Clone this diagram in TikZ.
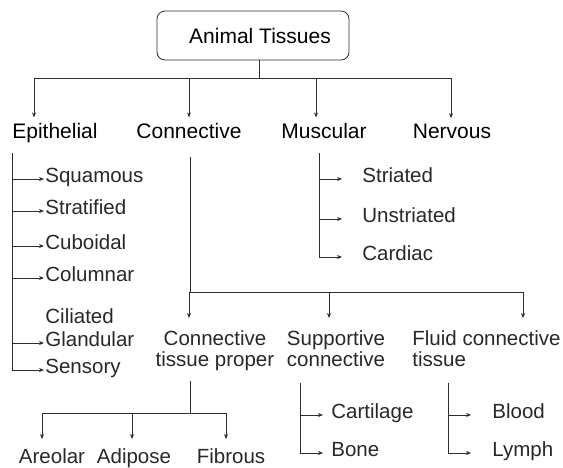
\documentclass[tikz,border=0pt]{standalone}
\usepackage{fontspec}
\setmainfont{Liberation Sans}
\usetikzlibrary{arrows.meta,calc}
\definecolor{tissueline}{RGB}{45,45,45}
\definecolor{tissuetext}{RGB}{40,40,40}

\begin{document}
\begin{tikzpicture}[x=1pt,y=-1pt,>={Stealth[length=5pt,width=4pt]},line width=0.8pt,tissueline,
    head/.style={font=\fontsize{21}{24}\selectfont,text=black,anchor=base,inner xsep=0pt,inner ysep=5pt},
    item/.style={font=\fontsize{20.5}{21}\selectfont,text=tissuetext,anchor=west,inner sep=1pt,text height=1.45ex,text depth=0.25ex},
    group/.style={font=\fontsize{20.5}{21}\selectfont,text=tissuetext,anchor=north,align=center,inner xsep=0pt,inner ysep=12pt},
    leaf/.style={font=\fontsize{20.5}{21}\selectfont,text=tissuetext,anchor=north,inner sep=0pt}]
    \useasboundingbox (0,0) rectangle (563,467);

    % Root
    \node[draw,rounded corners=8pt,minimum width=192pt,minimum height=49pt,head,anchor=center,inner sep=0pt] (root) at (253,35.5) {\hspace*{14pt}Animal Tissues};
    \coordinate (hub) at (259,78);
    \coordinate (bEpi) at (34,78);
    \coordinate (bCon) at (189,78);
    \coordinate (bMus) at (316,78);
    \coordinate (bNer) at (451,78);
    \draw ([xshift=6pt]root.south) -- (hub);
    \draw (bEpi) -- (bNer);

    % Main groups
    \node[head] (epi) at (55,138) {Epithelial};
    \node[head] (con) at (189,138) {Connective};
    \node[head] (mus) at (324,138) {Muscular};
    \node[head] (ner) at (452,138) {Nervous};
    \foreach \b/\n in {bEpi/epi,bCon/con,bMus/mus,bNer/ner}
        \draw[->] (\b) -- (\b |- \n.north);

    % Epithelial
    \coordinate (epiTop) at (12,153);
    \node[item] (squ) at (44,179) {Squamous};
    \node[item] (str) at (44,211) {Stratified};
    \node[item] (cub) at (44,246) {Cuboidal};
    \node[item] (col) at (44,278) {Columnar};
    \node[item] (cil) at (44,320) {Ciliated};
    \node[item] (gla) at (44,343) {Glandular};
    \node[item] (sen) at (44,370) {Sensory};
    \draw[->] (epiTop) |- (sen.west);
    \foreach \n in {squ,str,cub,col,gla}
        \draw[->] (epiTop |- \n.west) -- (\n.west);

    % Muscular
    \coordinate (musTop) at (319,153);
    \node[item] (musStr) at (361,179) {Striated};
    \node[item] (musUns) at (361,219) {Unstriated};
    \node[item] (musCar) at (361,257) {Cardiac};
    \draw[->,shorten >=19pt] (musTop) |- (musCar.west);
    \foreach \n in {musStr,musUns}
        \draw[->,shorten >=19pt] (musTop |- \n.west) -- (\n.west);

    % Connective
    \coordinate (conTop) at (190,157);
    \coordinate (cbL) at (189,292);
    \coordinate (cbM) at (329,292);
    \coordinate (cbR) at (523,292);
    \draw (conTop) |- (cbR);
    \node[group] (ctp) at (215,318) {Connective\\tissue proper};
    \node[group] (sup) at (336,318) {Supportive\\connective};
    \node[group,anchor=north west,align=left] (flu) at (412,318) {Fluid connective\\tissue};
    \foreach \b/\n in {cbL/ctp,cbM/sup,cbR/flu}
        \draw[->] (\b) -- (\b |- \n.north);

    % Connective tissue proper
    \coordinate (ctpTop) at (190,381);
    \coordinate (pbL) at (42,413);
    \coordinate (pbM) at (132,413);
    \coordinate (pbR) at (226,413);
    \draw (ctpTop) -- (ctpTop |- pbL);
    \draw (pbL) -- (pbR);
    \node[leaf] (are) at (52,448) {Areolar};
    \node[leaf] (adi) at (134,448) {Adipose};
    \node[leaf] (fib) at (231,448) {Fibrous};
    \foreach \b/\n in {pbL/are,pbM/adi,pbR/fib}
        \draw[->,shorten >=9pt] (\b) -- (\b |- \n.north);

    % Supportive connective
    \coordinate (supTop) at (300,383);
    \node[item] (cart) at (330,415) {Cartilage};
    \node[item] (bone) at (330,453) {Bone};
    \draw[->,shorten >=7pt] (supTop) |- (bone.west);
    \draw[->,shorten >=7pt] (supTop |- cart.west) -- (cart.west);

    % Fluid connective tissue
    \coordinate (fluTop) at (448,383);
    \node[item] (blo) at (491,415) {Blood};
    \node[item] (lym) at (491,453) {Lymph};
    \draw[->,shorten >=20pt] (fluTop) |- (lym.west);
    \draw[->,shorten >=20pt] (fluTop |- blo.west) -- (blo.west);
\end{tikzpicture}
\end{document}
